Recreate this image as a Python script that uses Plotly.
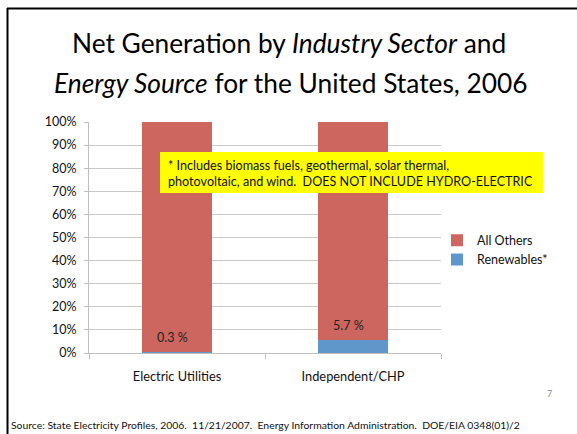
import plotly.graph_objects as go

categories = ["Electric Utilities", "Independent/CHP"]
renewables = [0.3, 5.7]
all_others = [99.7, 94.3]
y_tick_vals = [0, 10, 20, 30, 40, 50, 60, 70, 80, 90, 100]
y_tick_text = [f"{v}%" for v in y_tick_vals]

W, H = 577, 434
L, R, T, B = 89, 441, 122, 353  # plot area in px


def px(x):
    return (x - L) / (R - L)


def py(y):
    return (B - y) / (B - T)


FONT = "Lato, 'Open Sans', sans-serif"
RED = "#CD665F"
BLUE = "#6097CB"

fig = go.Figure()
fig.add_trace(go.Bar(x=categories, y=renewables, name="Renewables*",
                     marker=dict(color=BLUE, line=dict(width=0))))
fig.add_trace(go.Bar(x=categories, y=all_others, name="All Others",
                     marker=dict(color=RED, line=dict(width=0))))

annotations = []
# value labels
for c, v in zip(categories, renewables):
    annotations.append(dict(x=c, y=v, xref="x", yref="y", text=f"{v} %",
                            showarrow=False, yanchor="bottom", yshift=5, xshift=-5,
                            font=dict(family=FONT, size=12.5, color="#222")))
# title
annotations.append(dict(x=px(289), y=py(43), xref="paper", yref="paper",
                        text="Net Generation by <i>Industry Sector</i> and",
                        showarrow=False, xanchor="center", yanchor="middle",
                        font=dict(family=FONT, size=26.3, color="#000")))
annotations.append(dict(x=px(291), y=py(83), xref="paper", yref="paper",
                        text="<i>Energy Source</i> for the United States, 2006",
                        showarrow=False, xanchor="center", yanchor="middle",
                        font=dict(family=FONT, size=26.3, color="#000")))
# yellow note text
annotations.append(dict(x=px(166), y=py(173), xref="paper", yref="paper",
                        text="* Includes biomass fuels, geothermal, solar thermal,<br>"
                             "photovoltaic, and wind.  DOES NOT INCLUDE HYDRO-ELECTRIC",
                        showarrow=False, xanchor="left", yanchor="middle", align="left",
                        font=dict(family=FONT, size=12.6, color="#111")))
# source and slide number
annotations.append(dict(x=px(9), y=py(425), xref="paper", yref="paper",
                        text="Source: State Electricity Profiles, 2006.  11/21/2007.  Energy Information Administration.  DOE/EIA 0348(01)/2",
                        showarrow=False, xanchor="left", yanchor="middle",
                        font=dict(family=FONT, size=10.4, color="#111")))
annotations.append(dict(x=px(549), y=py(393), xref="paper", yref="paper",
                        text="7", showarrow=False, xanchor="center", yanchor="middle",
                        font=dict(family=FONT, size=9, color="#888")))

shapes = [
    dict(type="rect", xref="paper", yref="paper", x0=px(160), x1=px(543),
         y0=py(193), y1=py(152), fillcolor="#FFFF00", line=dict(width=0), layer="above"),
    dict(type="line", xref="paper", yref="paper", x0=px(7), x1=px(578),
         y0=py(8.5), y1=py(8.5), line=dict(color="#000", width=2)),
    dict(type="line", xref="paper", yref="paper", x0=px(7.5), x1=px(7.5),
         y0=py(8), y1=py(440), line=dict(color="#000", width=2)),
]

fig.update_layout(
    width=W, height=H,
    margin=dict(l=L, r=W - R, t=T, b=H - B, pad=0),
    paper_bgcolor="white", plot_bgcolor="white",
    barmode="stack", bargap=0.6,
    showlegend=True,
    legend=dict(x=px(437), y=py(250), xanchor="left", yanchor="middle",
                traceorder="reversed", font=dict(family=FONT, size=12.5, color="#111"),
                itemwidth=30, bgcolor="rgba(0,0,0,0)", tracegroupgap=2),
    xaxis=dict(showline=True, linecolor="#BFBFBF", linewidth=1, ticks="outside",
               ticklen=5, tickcolor="#BFBFBF", tickson="boundaries",
               ticklabelstandoff=12,
               tickfont=dict(family=FONT, size=12.8, color="#111"), fixedrange=True),
    yaxis=dict(range=[0, 100], tickvals=y_tick_vals, ticktext=y_tick_text,
               showline=True, linecolor="#BFBFBF", linewidth=1, ticks="outside",
               ticklen=4, tickcolor="#BFBFBF", showgrid=True, gridcolor="#C8C8C8",
               gridwidth=1, zeroline=False, ticklabelstandoff=5,
               tickfont=dict(family=FONT, size=12.5, color="#111"), fixedrange=True),
    annotations=annotations,
    shapes=shapes,
)

fig.write_html("out.html", config={"displayModeBar": False},
               post_script="document.body.style.margin='0';document.body.style.overflow='hidden';")
